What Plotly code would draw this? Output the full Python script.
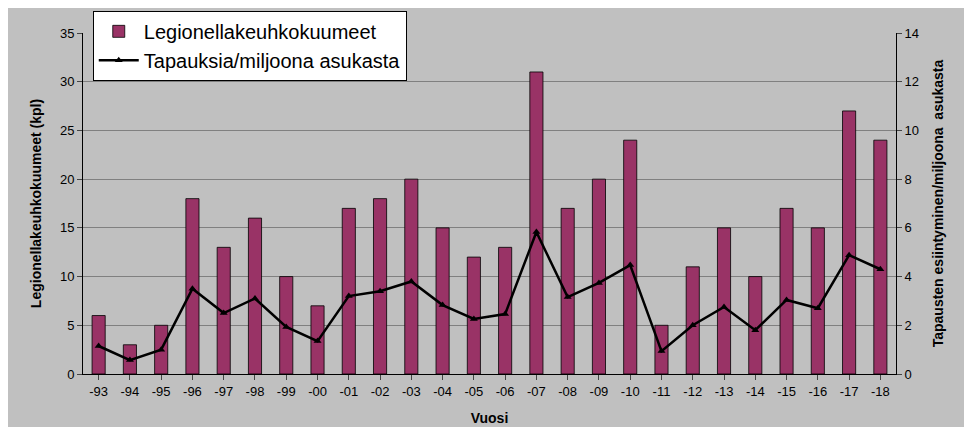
import plotly.graph_objects as go

years = ['-93', '-94', '-95', '-96', '-97', '-98', '-99', '-00', '-01', '-02', '-03', '-04', '-05',
         '-06', '-07', '-08', '-09', '-10', '-11', '-12', '-13', '-14', '-15', '-16', '-17', '-18']
outbreaks = [6, 3, 5, 18, 13, 16, 10, 7, 17, 18, 20, 15, 12, 13, 31, 17, 20, 24, 5, 11, 15, 10, 17, 15, 27, 24]
per_million = [1.15, 0.57, 1.0, 3.5, 2.5, 3.1, 1.93, 1.35, 3.2, 3.4, 3.8, 2.83, 2.26, 2.46, 5.83, 3.16,
               3.74, 4.47, 0.94, 2.0, 2.75, 1.8, 3.04, 2.7, 4.88, 4.3]

fig = go.Figure()
fig.add_trace(go.Bar(x=years, y=outbreaks, name='Legionellakeuhkokuumeet',
                     marker=dict(color='#993366', line=dict(color='black', width=0.8)), width=0.42))
fig.add_trace(go.Scatter(x=years, y=per_million, name='Tapauksia/miljoona asukasta', yaxis='y2',
                         mode='lines+markers', line=dict(color='black', width=2.5),
                         marker=dict(symbol='triangle-up', size=7, color='black')))

fig.update_layout(
    width=972, height=427,
    paper_bgcolor='#c0c0c0', plot_bgcolor='#c0c0c0',
    margin=dict(l=75, r=84, t=25, b=61, autoexpand=False),
    font=dict(family='Liberation Sans, Arial', size=13, color='black'),
    showlegend=True,
    legend=dict(x=0.012, y=1.065, xanchor='left', yanchor='top', bgcolor='white',
                bordercolor='black', borderwidth=1, font=dict(size=20), tracegroupgap=14,
                itemwidth=40),
    xaxis=dict(title=dict(text='<b>Vuosi</b>', font=dict(size=14)), showline=True, linecolor='black',
               ticks='outside', range=[-0.5, 25.5]),
    yaxis=dict(title=dict(text='<b>Legionellakeuhkokuumeet (kpl)</b>', font=dict(size=14)),
               range=[0, 35], dtick=5, showgrid=True, gridcolor='#808080', showline=True,
               linecolor='black', ticks='outside', zeroline=False),
    yaxis2=dict(title=dict(text='<b>Tapausten esiintyminen/miljoona  asukasta</b>', font=dict(size=14)),
                overlaying='y', side='right', range=[0, 14], dtick=2, showgrid=False,
                showline=True, linecolor='black', ticks='outside', zeroline=False),
)
fig.write_html("out.html")
